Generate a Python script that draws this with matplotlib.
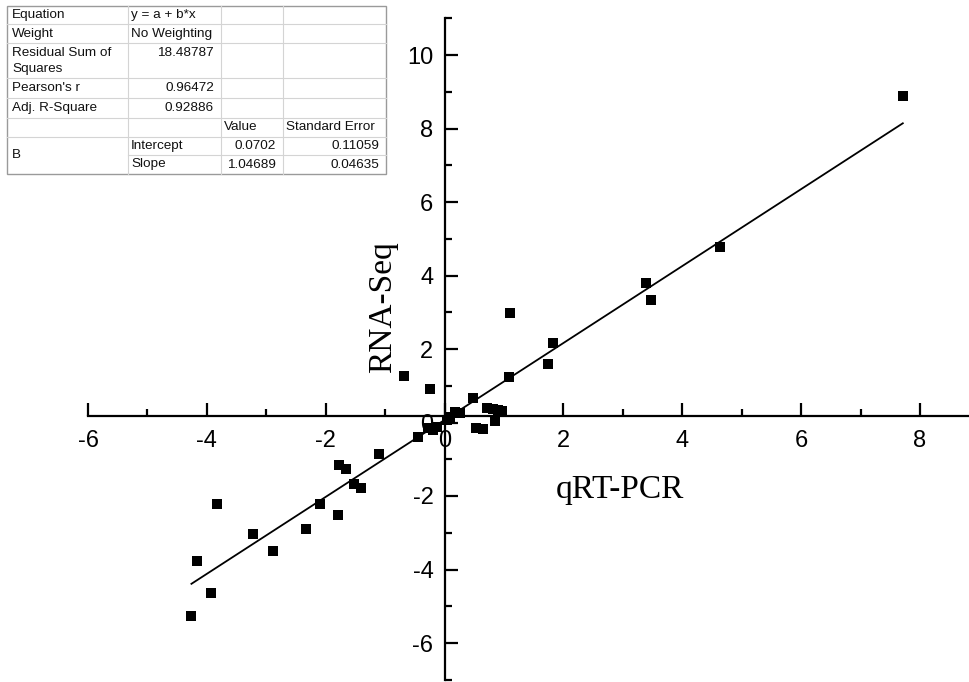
import matplotlib
matplotlib.use("Agg")
import matplotlib.pyplot as plt
import numpy as np
from matplotlib.ticker import FixedLocator

# ---------------- data ----------------
qrt_pcr = [7.71, 4.63, 3.39, 3.47, 1.10, 1.83, 1.74, 1.08, -0.68, -0.24, 0.48,
           0.71, 0.82, 0.90, 0.97, 0.84, 0.53, 0.64, 0.175, 0.26, 0.09, 0.04,
           -0.13, -0.19, -0.28, -0.45,
           -1.10, -1.78, -1.66, -1.52, -1.40, -2.10, -1.80, -2.34, -3.23, -2.89,
           -3.83, -4.17, -3.93, -4.26]
rna_seq = [8.88, 4.78, 3.80, 3.33, 2.98, 2.16, 1.59, 1.24, 1.27, 0.91, 0.67,
           0.39, 0.36, 0.34, 0.30, 0.04, -0.16, -0.19, 0.29, 0.25, 0.16, 0.07,
           -0.13, -0.20, -0.15, -0.39,
           -0.86, -1.17, -1.26, -1.67, -1.79, -2.22, -2.52, -2.90, -3.04, -3.50,
           -2.21, -3.78, -4.63, -5.27]

intercept = 0.0702
slope = 1.04689

x_ticks = [-6, -4, -2, 0, 2, 4, 6, 8]
y_ticks = [-6, -4, -2, 0, 2, 4, 6, 8, 10]
x_minor = [-5, -3, -1, 1, 3, 5, 7]
y_minor = [-7, -5, -3, -1, 1, 3, 5, 7, 9, 11]

table_rows = [
    ["Equation", "y = a + b*x", "", ""],
    ["Weight", "No Weighting", "", ""],
    ["Residual Sum of\nSquares", "18.48787", "", ""],
    ["Pearson's r", "0.96472", "", ""],
    ["Adj. R-Square", "0.92886", "", ""],
    ["", "", "Value", "Standard Error"],
    ["B", "Intercept", "0.0702", "0.11059"],
    ["", "Slope", "1.04689", "0.04635"],
]

# ---------------- figure ----------------
W, H = 970, 682
fig = plt.figure(figsize=(W / 100, H / 100), dpi=100)
ax = fig.add_axes([0, 0, 1, 1])

# pixel calibration: x=0 at 444.6 px, 59.43 px/unit; y=0 at 422.5 px, 36.75 px/unit
x0p, xs = 444.6, 59.43
y0p, ys = 422.5, 36.75
ax.set_xlim((0 - x0p) / xs, (W - x0p) / xs)
ax.set_ylim((y0p - H) / ys, (y0p - 0) / ys)

ax.scatter(qrt_pcr, rna_seq, marker="s", s=42, color="black", zorder=3,
           linewidths=0)
xf = np.array([min(qrt_pcr), max(qrt_pcr)])
ax.plot(xf, intercept + slope * xf, color="black", lw=1.3, zorder=2)

for s in ["top", "right"]:
    ax.spines[s].set_visible(False)
ax.spines["bottom"].set_position(("data", 0.18))
ax.spines["left"].set_position(("data", 0))
ax.spines["bottom"].set_bounds(-6, 9)
ax.spines["left"].set_bounds(-7, 11)
for s in ["bottom", "left"]:
    ax.spines[s].set_linewidth(1.6)

ax.set_xticks(x_ticks)
ax.set_xticklabels([str(t) for t in x_ticks])
ax.set_yticks(y_ticks)
ax.set_yticklabels([str(t) for t in y_ticks])
ax.xaxis.set_minor_locator(FixedLocator(x_minor))
ax.yaxis.set_minor_locator(FixedLocator(y_minor))

ax.tick_params(which="major", direction="in", length=9.5, width=1.6,
               labelsize=17)
ax.tick_params(axis="x", which="major", pad=10)
ax.tick_params(axis="y", which="major", pad=8)
ax.tick_params(which="minor", direction="in", length=5, width=1.6)
for lab in ax.get_xticklabels() + ax.get_yticklabels():
    lab.set_fontfamily(["Liberation Sans", "DejaVu Sans"])

fig.text(383 / W, 1 - 307 / H, "RNA-Seq", rotation=90, ha="center", va="center",
         fontsize=24, family=["Liberation Serif", "DejaVu Serif"])
fig.text(620 / W, 1 - 490 / H, "qRT-PCR", ha="center", va="center",
         fontsize=24, family=["Liberation Serif", "DejaVu Serif"])

# ---------------- table ----------------
tax = fig.add_axes([0, 0, 1, 1], zorder=5)
tax.set_xlim(0, W)
tax.set_ylim(H, 0)
tax.axis("off")

col_edges = [7, 128, 221, 283, 386]
row_edges = [6, 24, 43, 78, 98, 118, 137, 155, 174]
tax.add_patch(plt.Rectangle((col_edges[0], row_edges[0]),
                            col_edges[-1] - col_edges[0], row_edges[-1] - row_edges[0],
                            facecolor="white", edgecolor="#9a9a9a", lw=1.0))
grid_c = "#d4d4d4"
for ri, yv in enumerate(row_edges[1:-1], start=1):
    if ri == 7:
        tax.plot([col_edges[1], col_edges[-1]], [yv, yv], color=grid_c, lw=0.8)
    else:
        tax.plot([col_edges[0], col_edges[-1]], [yv, yv], color=grid_c, lw=0.8)
for xv in col_edges[1:-1]:
    tax.plot([xv, xv], [row_edges[0], row_edges[-1]], color=grid_c, lw=0.8)

tfont = dict(fontsize=9.7, family=["Liberation Sans", "DejaVu Sans"], color="#111111")


def is_num(s):
    try:
        float(s)
        return True
    except ValueError:
        return False


for ri, row in enumerate(table_rows):
    top = row_edges[ri]
    for ci, txt in enumerate(row):
        if not txt:
            continue
        if ri == 6 and ci == 0:
            yc = (row_edges[6] + row_edges[8]) / 2
            tax.text(col_edges[0] + 5, yc, txt, ha="left", va="center", **tfont)
            continue
        if "\n" in txt:
            lines = txt.split("\n")
            for li, ln in enumerate(lines):
                tax.text(col_edges[ci] + 5, top + 10 + 16 * li, ln, ha="left",
                         va="center", **tfont)
            continue
        yc = top + 10 if ri == 2 else (top + row_edges[ri + 1]) / 2
        if is_num(txt):
            tax.text(col_edges[ci + 1] - 7, yc, txt, ha="right", va="center", **tfont)
        else:
            tax.text(col_edges[ci] + (5 if ci == 0 else 3), yc, txt, ha="left",
                     va="center", **tfont)

fig.savefig("out.png", dpi=100)
